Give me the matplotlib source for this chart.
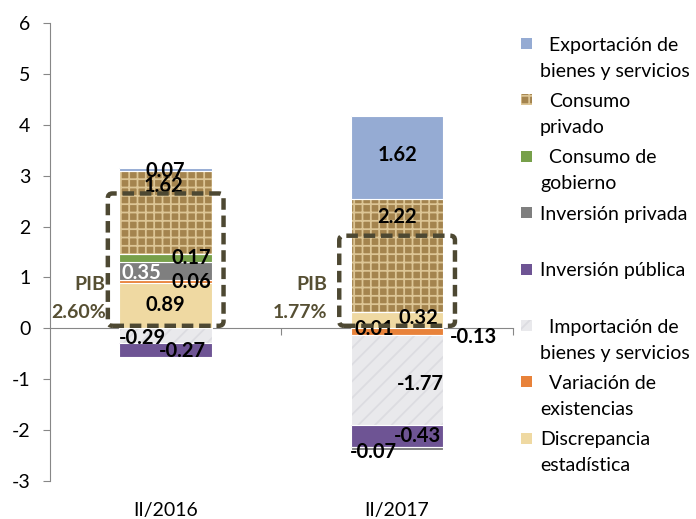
import matplotlib.pyplot as plt
from matplotlib.patches import FancyBboxPatch, Rectangle

plt.rcParams["font.family"] = ["Lato", "DejaVu Sans"]
plt.rcParams["hatch.linewidth"] = 1.3
plt.rcParams["axes.unicode_minus"] = False

periods = ["II/2016", "II/2017"]
gdp = [2.60, 1.77]

# series in stacking order (first = closest to zero)
discrepancia = [0.89, 0.32]
variacion = [0.06, -0.13]
importacion = [-0.29, -1.77]
inv_publica = [-0.27, -0.43]
inv_privada = [0.35, -0.07]
consumo_gob = [0.17, 0.01]
consumo_priv = [1.62, 2.22]
exportacion = [0.07, 1.62]

series = [
    ("Discrepancia\nestadística", discrepancia),
    ("Variación de\nexistencias", variacion),
    ("Importación de\nbienes y servicios", importacion),
    ("Inversión pública", inv_publica),
    ("Inversión privada", inv_privada),
    ("Consumo de\ngobierno", consumo_gob),
    ("Consumo\nprivado", consumo_priv),
    ("Exportación de\nbienes y servicios", exportacion),
]

# face, hatch, hatch colour
styles = [
    ("#EFD9A2", None, None),
    ("#E8823A", None, None),
    ("#E9E9EC", "//", "#DCDCE1"),
    ("#6E5494", None, None),
    ("#7F7F7F", None, None),
    ("#77A04A", None, None),
    ("#A4844E", "++", "#DCC595"),
    ("#95ABD3", None, None),
]
# manual nudges of the data labels (pixels), one per bar
label_offsets = [
    [(0, 1), (21, 2)],
    [(26, 0), (76, -5)],
    [(-23, -2), (23, -4)],
    [(17, -1), (20, 0)],
    [(-24, -2), (-24, -3)],
    [(26, 0), (-23, -17)],
    [(-2, 26), (0, 38)],
    [(0, -2), (0, 2)],
]
indented = [False, True, True, False, False, True, True, True]

fig = plt.figure(figsize=(6.96, 5.19), dpi=100)
ax = fig.add_axes([0.0718, 0.0732, 0.665, 0.8825])

pos = [0.0] * len(periods)
neg = [0.0] * len(periods)
for k, (name, vals) in enumerate(series):
    face, hatch, hcol = styles[k]
    for i, v in enumerate(vals):
        bottom = pos[i] if v >= 0 else neg[i]
        ax.bar(i, v, 0.4, bottom=bottom, color=face, hatch=hatch,
               edgecolor=hcol if hatch else face, linewidth=0, zorder=2)
        ax.bar(i, v, 0.4, bottom=bottom, fill=False, edgecolor="white",
               linewidth=0.8, zorder=2)
        dx, dy = label_offsets[k][i]
        col = "white" if (k == 4 and i == 0) else "black"
        ax.annotate(f"{v:.2f}", (i, bottom + v / 2), xytext=(dx, dy),
                    textcoords="offset pixels", ha="center", va="center",
                    fontsize=14.5, fontweight="bold", color=col, zorder=4)
        if v >= 0:
            pos[i] += v
        else:
            neg[i] += v

# dashed GDP boxes
box_col = "#4D4832"
pib_x = [-0.26, -0.30]
for i, g in enumerate(gdp):
    ax.add_patch(FancyBboxPatch((i - 0.25, 0.05), 0.5, g,
                                boxstyle="round,pad=0,rounding_size=0.02",
                                mutation_aspect=4.5, fill=False,
                                edgecolor=box_col, linewidth=3.2,
                                linestyle=(0, (2.6, 1.3)), zorder=5))
    ax.text(i + pib_x[i], 0.87, "PIB", ha="right", va="center",
            fontsize=14, fontweight="bold", color="#564F33")
    ax.text(i + pib_x[i], 0.31, f"{g:.2f}%", ha="right", va="center",
            fontsize=14, fontweight="bold", color="#564F33")

ax.set_xlim(-0.5, 1.5)
ax.set_ylim(-3, 6)
ax.set_yticks(range(-3, 7))
for s in ["top", "right"]:
    ax.spines[s].set_visible(False)
ax.spines["bottom"].set_position(("data", 0))
ax.spines["bottom"].set_color("#878787")
ax.spines["left"].set_color("#878787")
ax.spines["bottom"].set_zorder(1)
ax.set_xticks([0.5, 1.5])
ax.set_xticklabels([])
ax.tick_params(axis="x", direction="out", length=5, color="#878787")
ax.tick_params(axis="y", direction="out", length=5, color="#878787",
               labelsize=14, pad=9)
for i, p in enumerate(periods):
    ax.annotate(p, (i, -3), xytext=(0, -29), textcoords="offset pixels",
                ha="center", va="center", fontsize=14)

# legend, drawn by hand (Excel-like wrapping)
W, H = 696.0, 519.0
for j, k in enumerate(reversed(range(len(series)))):
    name = series[k][0]
    face, hatch, hcol = styles[k]
    yc = 43.5 + 56.4 * j
    fig.patches.append(Rectangle((521 / W, 1 - (yc + 5.5) / H), 11 / W, 11 / H,
                                 transform=fig.transFigure, facecolor=face,
                                 hatch=hatch, edgecolor=hcol if hatch else face,
                                 linewidth=0))
    for n, line in enumerate(name.split("\n")):
        xl = 549 if (n == 0 and indented[k]) else 540
        fig.text(xl / W, 1 - (yc + 7 + 26 * n) / H, line, ha="left",
                 va="baseline", fontsize=14)

# title, cut off by the top edge in the original
fig.text(350 / W, 1 + 4 / H, "(variación porcentual anual)", ha="center",
         va="baseline", fontsize=14, fontweight="bold")

fig.savefig("out.png", dpi=100)
